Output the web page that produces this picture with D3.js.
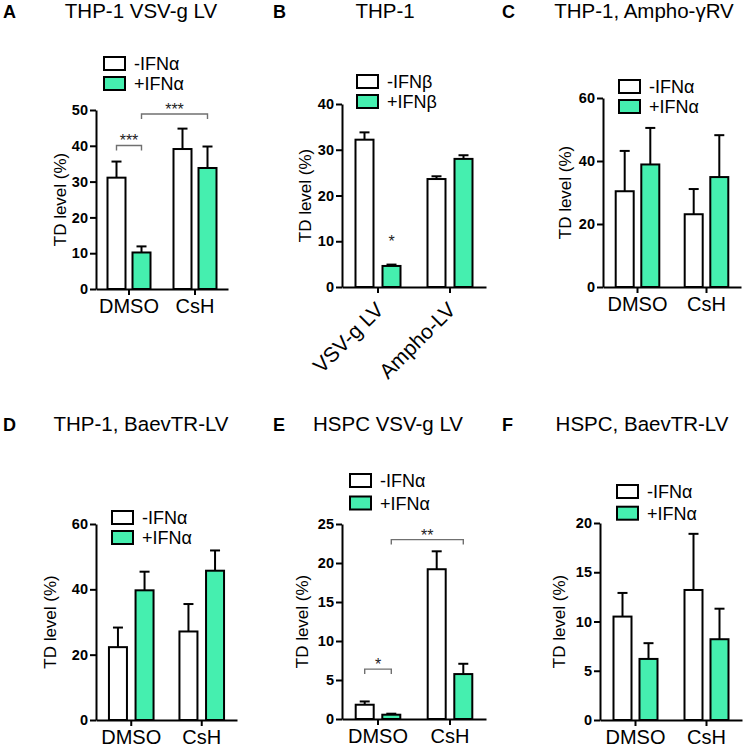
<!DOCTYPE html>
<html><head><meta charset="utf-8">
<script src="https://cdn.jsdelivr.net/npm/d3@7"></script>
<style>
body{margin:0;background:#fff}
svg{display:block}
text{font-family:"Liberation Sans",Arial,Helvetica,sans-serif}
</style>
</head><body>
<svg id="chart" width="743" height="747"></svg>
<script>
// ---------------- DATA ----------------
const seriesKeys = ["minus", "plus"];
const groupsDrug = ["DMSO", "CsH"];
const groupsVector = ["VSV-g LV", "Ampho-LV"];
const legendAlpha = ["-IFNα", "+IFNα"];
const legendBeta = ["-IFNβ", "+IFNβ"];
const yTitle = "TD level (%)";

// Panel A: THP-1 VSV-g LV
const aMinus = [31.1, 39.1], aMinusErr = [4.5, 5.7];
const aPlus = [10.2, 33.8], aPlusErr = [1.7, 6.0];
const aTicks = [0, 10, 20, 30, 40, 50];
const aSig = [{g1: 0, k1: 0, g2: 0, k2: 1, level: 40.1, label: "***"},
              {g1: 0, k1: 1, g2: 1, k2: 1, level: 48.9, label: "***"}];

// Panel B: THP-1
const bMinus = [32.2, 23.6], bMinusErr = [1.6, 0.6];
const bPlus = [4.6, 28.0], bPlusErr = [0.3, 0.8];
const bTicks = [0, 10, 20, 30, 40];
const bStars = [{g: 0, k: 1, level: 8.8, label: "*"}];

// Panel C: THP-1, Ampho-γRV
const cMinus = [30.4, 23.1], cMinusErr = [12.8, 8.0];
const cPlus = [38.9, 34.9], cPlusErr = [11.6, 13.3];
const cTicks = [0, 20, 40, 60];

// Panel D: THP-1, BaevTR-LV
const dMinus = [22.3, 27.1], dMinusErr = [6.0, 8.4];
const dPlus = [39.7, 45.7], dPlusErr = [5.7, 6.2];
const dTicks = [0, 20, 40, 60];

// Panel E: HSPC VSV-g LV
const eMinus = [1.83, 19.2], eMinusErr = [0.42, 2.3];
const ePlus = [0.55, 5.76], ePlusErr = [0.13, 1.32];
const eTicks = [0, 5, 10, 15, 20, 25];
const eSig = [{g1: 0, k1: 0, g2: 0, k2: 1, level: 6.4, label: "*"},
              {g1: 0, k1: 1, g2: 1, k2: 1, level: 23.0, label: "**"}];

// Panel F: HSPC, BaevTR-LV
const fMinus = [10.5, 13.2], fMinusErr = [2.4, 5.7];
const fPlus = [6.2, 8.2], fPlusErr = [1.6, 3.1];
const fTicks = [0, 5, 10, 15, 20];

// ---------------- STYLE / LAYOUT ----------------
const GREEN = "#45efaf";
const fills = {minus: "#ffffff", plus: GREEN};
const svg = d3.select("#chart");

function drawPanel(p) {
  const g = svg.append("g");
  const y = d3.scaleLinear().domain([0, d3.max(p.ticks)]).range([p.y0, p.yTop]);
  const x = d3.scaleBand().domain(p.groups).range([p.x0, p.x1]);
  const vals = {minus: p.minus, plus: p.plus};
  const errs = {minus: p.minusErr, plus: p.plusErr};
  const center = (gi, k) => x(p.groups[gi]) + x.bandwidth() / 2 + (k === 0 ? -p.off : p.off);
  const bw = 18;

  // letter + title
  g.append("text").attr("x", p.letterX).attr("y", p.letterY)
    .attr("font-size", 18).attr("font-weight", "bold").text(p.letter);
  g.append("text").attr("x", p.titleX).attr("y", p.letterY)
    .attr("font-size", 20.5).attr("text-anchor", "middle").text(p.title);

  // bars + error bars
  const rows = [];
  p.groups.forEach((gr, gi) => seriesKeys.forEach((k, ki) => {
    rows.push({gi, ki, k, v: vals[k][gi], e: errs[k][gi]});
  }));
  g.selectAll("line.err").data(rows).join("line").attr("class", "err")
    .attr("x1", d => center(d.gi, d.ki)).attr("x2", d => center(d.gi, d.ki))
    .attr("y1", d => y(d.v)).attr("y2", d => y(d.v + d.e))
    .attr("stroke", "#000").attr("stroke-width", 2);
  g.selectAll("line.cap").data(rows).join("line").attr("class", "cap")
    .attr("x1", d => center(d.gi, d.ki) - 5).attr("x2", d => center(d.gi, d.ki) + 5)
    .attr("y1", d => y(d.v + d.e)).attr("y2", d => y(d.v + d.e))
    .attr("stroke", "#000").attr("stroke-width", 2);
  g.selectAll("rect.bar").data(rows).join("rect").attr("class", "bar")
    .attr("x", d => center(d.gi, d.ki) - bw / 2).attr("width", bw)
    .attr("y", d => y(d.v)).attr("height", d => y(0) - y(d.v))
    .attr("fill", d => fills[d.k]).attr("stroke", "#000").attr("stroke-width", 2);

  // axes
  const ya = g.append("g").attr("transform", `translate(${p.x0},0)`)
    .call(d3.axisLeft(y).tickValues(p.ticks).tickSize(6).tickSizeOuter(0).tickPadding(2).tickFormat(d3.format("d")));
  ya.select(".domain").attr("stroke-width", 2);
  ya.selectAll(".tick line").attr("stroke-width", 2);
  ya.selectAll(".tick text").attr("font-size", 14.5).attr("font-weight", "bold")
    .attr("font-family", '"Liberation Sans",Arial,sans-serif').attr("fill", "#000");

  const xa = g.append("g").attr("transform", `translate(0,${p.y0})`)
    .call(d3.axisBottom(x).tickSize(6).tickSizeOuter(0).tickPadding(4));
  xa.select(".domain").attr("stroke-width", 2);
  xa.selectAll(".tick line").attr("stroke-width", 2);
  const xt = xa.selectAll(".tick text").attr("font-size", 20)
    .attr("font-family", '"Liberation Sans",Arial,sans-serif').attr("fill", "#000");
  if (p.rotate) {
    xt.attr("y", 0).attr("dy", 0).attr("text-anchor", "end").attr("font-size", 21)
      .attr("transform", `translate(${p.rotDx},${p.rotDy}) rotate(-45)`);
  }

  // y title
  g.append("text").attr("transform", `translate(${p.yTitleX},${(p.y0 + p.yTop) / 2}) rotate(-90)`)
    .attr("text-anchor", "middle").attr("font-size", 17).text(yTitle);

  // legend
  p.legend.forEach((lab, i) => {
    const ly = p.legY + i * p.legGap;
    g.append("rect").attr("x", p.legX).attr("y", ly).attr("width", 21).attr("height", 13)
      .attr("fill", fills[seriesKeys[i]]).attr("stroke", "#000").attr("stroke-width", 2);
    g.append("text").attr("x", p.legX + 30).attr("y", ly + 13).attr("font-size", 18).text(lab);
  });

  // significance brackets
  (p.sig || []).forEach(s => {
    const xa1 = center(s.g1, s.k1), xa2 = center(s.g2, s.k2), yy = y(s.level);
    g.append("path").attr("d", `M${xa1},${yy + 5}V${yy}H${xa2}V${yy + 5}`)
      .attr("fill", "none").attr("stroke", "#707070").attr("stroke-width", 1.4);
    g.append("text").attr("x", (xa1 + xa2) / 2).attr("y", yy + 1).attr("text-anchor", "middle")
      .attr("font-size", 16).attr("fill", "#222").text(s.label);
  });
  (p.stars || []).forEach(s => {
    g.append("text").attr("x", center(s.g, s.k)).attr("y", y(s.level)).attr("text-anchor", "middle")
      .attr("font-size", 16).attr("fill", "#222").text(s.label);
  });
}

drawPanel({letter: "A", title: "THP-1 VSV-g LV", letterX: 3, letterY: 18, titleX: 141,
  groups: groupsDrug, minus: aMinus, minusErr: aMinusErr, plus: aPlus, plusErr: aPlusErr, ticks: aTicks,
  x0: 96, x1: 228, y0: 289, yTop: 110, off: 12.5, yTitleX: 66,
  legend: legendAlpha, legX: 104, legY: 57, legGap: 20, sig: aSig});

drawPanel({letter: "B", title: "THP-1", letterX: 273, letterY: 18, titleX: 385,
  groups: groupsVector, minus: bMinus, minusErr: bMinusErr, plus: bPlus, plusErr: bPlusErr, ticks: bTicks,
  x0: 342, x1: 486, y0: 287, yTop: 104, off: 13.5, yTitleX: 311,
  legend: legendBeta, legX: 357, legY: 75, legGap: 20, stars: bStars,
  rotate: true, rotDx: 7, rotDy: 24});

drawPanel({letter: "C", title: "THP-1, Ampho-γRV", letterX: 502, letterY: 18, titleX: 644,
  groups: groupsDrug, minus: cMinus, minusErr: cMinusErr, plus: cPlus, plusErr: cPlusErr, ticks: cTicks,
  x0: 603, x1: 741, y0: 287, yTop: 98, off: 12.8, yTitleX: 571,
  legend: legendAlpha, legX: 619, legY: 80, legGap: 20});

drawPanel({letter: "D", title: "THP-1, BaevTR-LV", letterX: 3, letterY: 431, titleX: 141,
  groups: groupsDrug, minus: dMinus, minusErr: dMinusErr, plus: dPlus, plusErr: dPlusErr, ticks: dTicks,
  x0: 96, x1: 237, y0: 720, yTop: 524, off: 13.3, yTitleX: 56,
  legend: legendAlpha, legX: 112, legY: 511, legGap: 20});

drawPanel({letter: "E", title: "HSPC VSV-g LV", letterX: 273, letterY: 431, titleX: 388,
  groups: groupsDrug, minus: eMinus, minusErr: eMinusErr, plus: ePlus, plusErr: ePlusErr, ticks: eTicks,
  x0: 342, x1: 486, y0: 719, yTop: 524, off: 13.3, yTitleX: 308,
  legend: legendAlpha, legX: 350, legY: 474, legGap: 22.5, sig: eSig});

drawPanel({letter: "F", title: "HSPC, BaevTR-LV", letterX: 502, letterY: 431, titleX: 642,
  groups: groupsDrug, minus: fMinus, minusErr: fMinusErr, plus: fPlus, plusErr: fPlusErr, ticks: fTicks,
  x0: 600, x1: 742, y0: 720, yTop: 523, off: 13, yTitleX: 565,
  legend: legendAlpha, legX: 617, legY: 485, legGap: 21.7});
</script>
</body></html>
